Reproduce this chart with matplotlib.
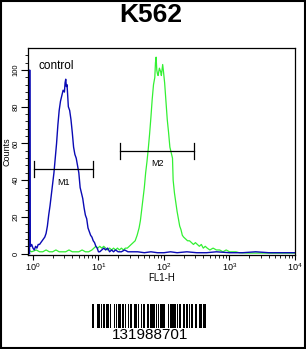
import numpy as np
import matplotlib
matplotlib.use("Agg")
import matplotlib.pyplot as plt
from matplotlib.patches import Rectangle
from matplotlib.ticker import FixedLocator, NullFormatter

plt.rcParams['font.family'] = ['Liberation Sans', 'DejaVu Sans']

# histogram of control (blue), positions in decades of FL1-H
blue_dec = [-0.052, -0.05, -0.045, -0.035, -0.02, 0.0, 0.02, 0.04, 0.06, 0.08, 0.10,
            0.12, 0.14, 0.16, 0.18, 0.20, 0.22, 0.24, 0.26, 0.28, 0.30, 0.32, 0.34,
            0.36, 0.38, 0.40, 0.42, 0.44, 0.46, 0.48, 0.49, 0.50, 0.51, 0.52, 0.54,
            0.56, 0.58, 0.60, 0.62, 0.64, 0.66, 0.68, 0.70, 0.72, 0.74, 0.76, 0.78,
            0.80, 0.82, 0.84, 0.86, 0.88, 0.90, 0.92, 0.94, 0.96, 0.98, 1.00, 1.02,
            1.05, 1.08, 1.11, 1.14, 1.17, 1.20, 1.23, 1.26, 1.30, 1.35, 1.40, 1.45,
            1.50, 1.60, 1.70, 1.80, 1.90, 2.00, 2.10, 2.20, 2.35, 2.50, 2.65, 2.80,
            3.00, 3.20, 3.40, 3.60, 3.80, 4.00]
blue_cnt = [0, 100, 6, 4, 5, 3, 2, 4, 3, 5, 5,
            6, 7, 8, 9, 11, 15, 21, 26, 32, 38, 44, 52,
            60, 70, 78, 83, 86, 89, 88, 93, 95, 91, 92, 80,
            78, 73, 66, 58, 54, 52, 48, 44, 36, 33, 30, 25,
            21, 19, 14, 12, 10, 9, 7, 6, 4, 3, 1, 1,
            2, 3, 2, 3, 1, 2, 1, 2, 1, 1, 2, 1,
            1, 1, 0.5, 1, 0.5, 0.5, 1, 0.5, 1, 0.5, 0.5, 1,
            0.5, 0.5, 1, 0.5, 0.5, 0.5]

# histogram of the antibody sample (green)
green_dec = [-0.07, -0.02, 0.05, 0.10, 0.15, 0.20, 0.25, 0.30, 0.35, 0.40, 0.45,
             0.50, 0.55, 0.60, 0.65, 0.70, 0.75, 0.80, 0.85, 0.90, 0.93, 0.96,
             0.99, 1.02, 1.05, 1.08, 1.11, 1.14, 1.17, 1.20, 1.23, 1.26, 1.29,
             1.32, 1.35, 1.38, 1.41, 1.44, 1.47, 1.50, 1.53, 1.56, 1.59, 1.62,
             1.64, 1.66, 1.68, 1.70, 1.72, 1.74, 1.76, 1.78, 1.80, 1.82, 1.84,
             1.86, 1.87, 1.88, 1.89, 1.90, 1.91, 1.93, 1.95, 1.96, 1.98, 1.99,
             2.01, 2.03, 2.05, 2.07, 2.09, 2.11, 2.13, 2.14, 2.16, 2.18, 2.20,
             2.22, 2.24, 2.26, 2.28, 2.30, 2.33, 2.36, 2.39, 2.42, 2.45, 2.48,
             2.51, 2.54, 2.57, 2.60, 2.63, 2.66, 2.70, 2.75, 2.80, 2.85, 2.90,
             2.95, 3.00, 3.05, 3.10, 3.15, 3.30, 3.60, 4.00]
green_cnt = [2, 1, 2, 1, 1, 2, 1, 1, 2, 1, 1,
             1, 2, 1, 1, 1, 2, 1, 1, 2, 3, 4,
             3, 4, 3, 4, 3, 2, 3, 2, 3, 2, 3,
             2, 3, 2, 3, 3, 4, 5, 6, 7, 10, 14,
             18, 24, 30, 36, 44, 50, 57, 65, 74, 84, 92,
             96, 104, 107, 100, 98, 97, 101, 99, 97, 103, 100,
             93, 83, 73, 66, 58, 55, 52, 40, 33, 28, 23,
             19, 15, 13, 10, 9, 8, 7, 7, 6, 5, 6,
             5, 4, 5, 3, 4, 3, 2, 3, 2, 2, 1,
             2, 1, 1, 1, 0.5, 0.3, 0.3, 0.3]

# marker gates: name, start, end (FL1-H), level (counts)
gate_names = ["M1", "M2"]
gate_start = [1.035, 21.4]
gate_end = [8.3, 288.0]
gate_level = [46, 56]

title = "K562"
barcode_text = "131988701"
barcode_bits = ("1101001110010110011100100010110111001101100101110011110100100110"
                "0111011011101001011101100011011101110100110011101100101100011000111010110")

fig = plt.figure(figsize=(3.06, 3.49), dpi=100)
fig.patch.set_facecolor("white")
fig.add_artist(Rectangle((0.002, 0.002), 0.995, 0.995, transform=fig.transFigure,
                         fill=False, edgecolor="black", linewidth=1.5))

ax = fig.add_axes([0.0915, 0.268, 0.8725, 0.5945])
ax.plot(10 ** np.array(green_dec), green_cnt, color="#33F033", linewidth=0.9)
ax.plot(10 ** np.array(blue_dec), blue_cnt, color="#0A0AB4", linewidth=1.0)

ax.set_xscale("log")
ax.set_xlim(10 ** -0.076, 10 ** 4)
ax.set_ylim(-1, 112)

for name, s, e, lv in zip(gate_names, gate_start, gate_end, gate_level):
    ax.plot([s, e], [lv, lv], color="black", linewidth=0.9)
    ax.plot([s, s], [lv - 4.5, lv + 4.5], color="black", linewidth=0.9)
    ax.plot([e, e], [lv - 4.5, lv + 4.5], color="black", linewidth=0.9)
    ax.text(np.sqrt(s * e), lv - 7, name, fontsize=6.5, ha="center", va="center")

ax.text(1.2, 102, "control", fontsize=8.5, ha="left", va="center")

ax.set_xticks([1, 10, 100, 1000, 10000])
ax.set_xticklabels([r"$\mathregular{10^{%d}}$" % i for i in range(5)], fontsize=6.5)
minors = [m * 10 ** d for d in range(4) for m in range(2, 10)]
ax.xaxis.set_minor_locator(FixedLocator(minors))
ax.xaxis.set_minor_formatter(NullFormatter())
ax.tick_params(axis="x", which="major", length=3.5, width=0.8, pad=1)
ax.tick_params(axis="x", which="minor", length=2, width=0.6)

ax.set_yticks([0, 20, 40, 60, 80, 100])
ax.set_yticklabels(["0", "20", "40", "60", "80", "100"], fontsize=5.5, rotation=90, va="center")
ax.yaxis.set_minor_locator(FixedLocator(list(range(0, 112, 4))))
ax.tick_params(axis="y", which="major", length=5, width=0.8, pad=1)
ax.tick_params(axis="y", which="minor", length=2, width=0.6)

ax.set_xlabel("FL1-H", fontsize=7, labelpad=0)
ax.set_ylabel("Counts", fontsize=6.5, labelpad=1)
for sp in ax.spines.values():
    sp.set_linewidth(0.9)

fig.text(0.494, 0.957, title, fontsize=19, fontweight="bold", ha="center", va="center")

# barcode
bx = fig.add_axes([92 / 306, 1 - 328 / 349, 115 / 306, 24 / 349])
bits = [int(b) for b in barcode_bits]
bx.bar(np.arange(len(bits)), bits, width=1.0, color="black", align="edge", linewidth=0)
bx.set_xlim(0, len(bits))
bx.set_ylim(0, 1)
bx.axis("off")
fig.text(0.490, 1 - 335 / 349, barcode_text, fontsize=11, ha="center", va="center")

fig.savefig("out.png", dpi=100)
